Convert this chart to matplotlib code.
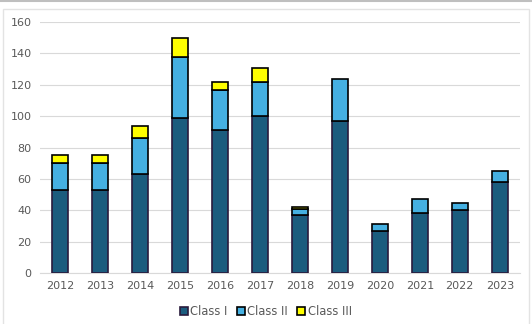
import matplotlib.pyplot as plt
import numpy as np
from matplotlib.patches import Rectangle

years = ["2012", "2013", "2014", "2015", "2016", "2017", "2018", "2019", "2020", "2021", "2022", "2023"]
class_1 = [53, 53, 63, 99, 91, 100, 37, 97, 27, 38, 40, 58]
class_2 = [17, 17, 23, 39, 26, 22, 4, 27, 4, 9, 5, 7]
class_3 = [5, 5, 8, 12, 5, 9, 1, 0, 0, 0, 0, 0]

fig = plt.figure(figsize=(5.32, 3.24), dpi=100)
# outer chart frame
fig.add_artist(Rectangle((0.005, -0.01), 0.99, 0.982, transform=fig.transFigure,
                         fill=False, edgecolor="#E3E3E3", linewidth=1))
fig.add_artist(plt.Line2D([0, 1], [0.998, 0.998], transform=fig.transFigure,
                          color="#BFBFBF", linewidth=1.5))

ax = fig.add_axes([0.075, 0.157, 0.902, 0.775])
x = np.arange(len(years))
w = 0.41
b2 = np.array(class_1)
b3 = b2 + np.array(class_2)
ax.bar(x, class_1, w, color="#1B5C7E", edgecolor="#2A1B3D", linewidth=1.2, label="Class I", zorder=3)
ax.bar(x, class_2, w, bottom=b2, color="#45B0E1", edgecolor="black", linewidth=1.2, label="Class II", zorder=3)
m = np.array(class_3) > 0
ax.bar(x[m], np.array(class_3)[m], w, bottom=b3[m], color="#FFFF00", edgecolor="black",
       linewidth=1.2, label="Class III", zorder=3)

ax.set_ylim(0, 160)
ax.set_yticks(range(0, 161, 20))
ax.set_xlim(-0.5, len(years) - 0.5)
ax.set_xticks(x)
ax.set_xticklabels(years)
ax.grid(axis="y", color="#D9D9D9", linewidth=0.8, zorder=0)
for s in ["top", "right", "left"]:
    ax.spines[s].set_visible(False)
ax.spines["bottom"].set_color("#D9D9D9")
ax.tick_params(length=0, labelsize=8, colors="#595959", pad=6)

leg = fig.legend(loc="lower center", bbox_to_anchor=(0.5, -0.015), ncol=3, frameon=False,
                 fontsize=8.3, handlelength=0.7, handleheight=0.7, handletextpad=0.2,
                 columnspacing=0.8, labelcolor="#595959")

fig.savefig("out.png", dpi=100)
